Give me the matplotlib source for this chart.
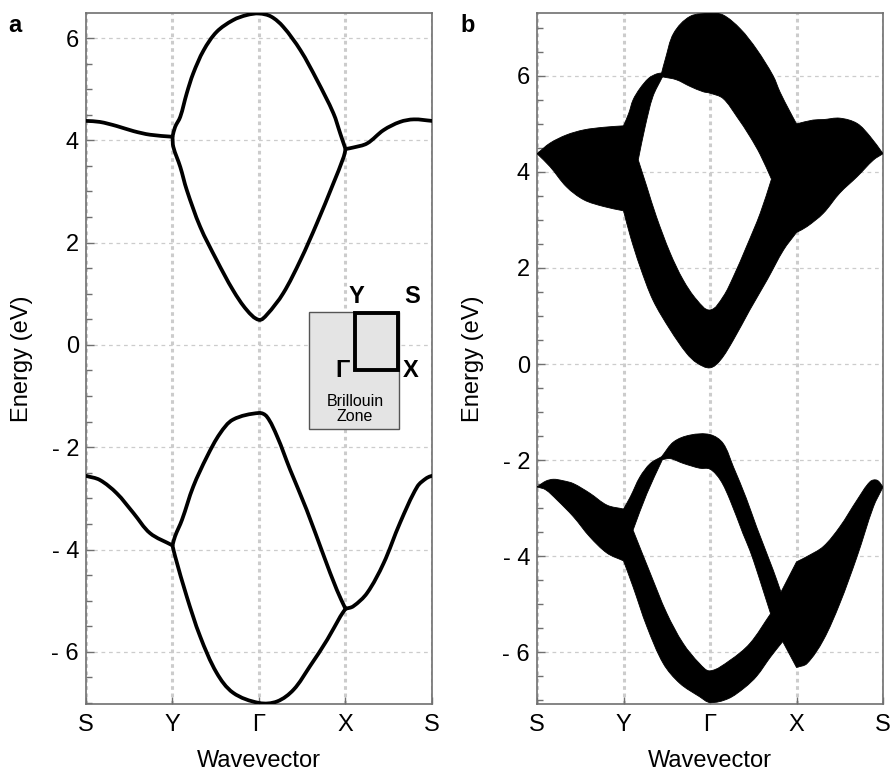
import numpy as np
import matplotlib
matplotlib.use("Agg")
import matplotlib.pyplot as plt
from matplotlib.path import Path
from matplotlib.patches import PathPatch, Rectangle
from matplotlib.ticker import MultipleLocator

plt.rcParams['font.family'] = ['Liberation Sans', 'DejaVu Sans']

# high-symmetry path S-Y-G-X-S
kpath_pos = [0, 1, 2, 3, 4]
kpath_labels = ['S', 'Y', 'Γ', 'X', 'S']
energy_ticks = [-6, -4, -2, 0, 2, 4, 6]
energy_labels = ['- 6', '- 4', '- 2', '0', '2', '4', '6']

# ---- panel a: bulk bands ----
cb2_k = [0, 0.16, 0.355, 0.55, 0.74, 1.0, 1.03, 1.09, 1.165, 1.24, 1.36, 1.51, 1.70, 1.86, 2.0,
         2.14, 2.28, 2.48, 2.67, 2.86, 2.94, 3.0, 3.09, 3.25, 3.44, 3.63, 3.79, 4.0]
cb2_e = [4.38, 4.36, 4.28, 4.18, 4.11, 4.07, 4.26, 4.46, 4.92, 5.31, 5.76, 6.12, 6.35, 6.45, 6.48,
         6.42, 6.22, 5.76, 5.18, 4.53, 4.13, 3.83, 3.86, 3.94, 4.20, 4.36, 4.41, 4.38]

cb1_k = [1.0, 1.01, 1.09, 1.165, 1.32, 1.51, 1.70, 1.86, 2.0, 2.09, 2.28, 2.48, 2.67, 2.86, 2.98, 3.0]
cb1_e = [4.07, 3.87, 3.48, 3.03, 2.31, 1.66, 1.07, 0.68, 0.49, 0.59, 1.01, 1.66, 2.38, 3.16, 3.68, 3.83]

vb2_k = [0, 0.16, 0.355, 0.55, 0.74, 1.0, 1.03, 1.11, 1.24, 1.40, 1.55, 1.70, 2.0,
         2.09, 2.21, 2.36, 2.55, 2.75, 2.90, 3.0, 3.09, 3.25, 3.44, 3.63, 3.83, 3.94, 4.0]
vb2_e = [-2.56, -2.64, -2.90, -3.29, -3.68, -3.92, -3.74, -3.42, -2.77, -2.18, -1.73, -1.46, -1.33,
         -1.40, -1.79, -2.44, -3.22, -4.13, -4.79, -5.16, -5.11, -4.85, -4.27, -3.48, -2.77, -2.60, -2.56]

vb1_k = [1.0, 1.03, 1.165, 1.32, 1.51, 1.70, 2.0, 2.21, 2.40, 2.59, 2.79, 2.94, 3.0]
vb1_e = [-3.92, -4.13, -4.92, -5.70, -6.41, -6.80, -7.0, -6.97, -6.74, -6.28, -5.76, -5.31, -5.16]

# ---- panel b: ribbon band envelopes ----
cond_top_k = [0, 0.15, 0.34, 0.54, 0.77, 1.0, 1.06, 1.11, 1.19, 1.29, 1.38, 1.44, 1.48, 1.58, 1.77,
              2.0, 2.15, 2.35, 2.54, 2.73, 2.81, 2.92, 3.0, 3.19, 3.31, 3.50, 3.70, 3.85, 4.0]
cond_top_e = [4.38, 4.60, 4.77, 4.875, 4.93, 4.96, 5.22, 5.50, 5.74, 5.95, 6.04, 6.06, 6.33, 6.89, 7.24,
              7.30, 7.27, 6.98, 6.55, 6.00, 5.66, 5.27, 5.00, 5.08, 5.09, 5.12, 5.01, 4.74, 4.38]
cond_bot_k = [0, 0.15, 0.34, 0.54, 0.77, 1.0, 1.08, 1.19, 1.34, 1.54, 1.73, 1.85, 2.0, 2.12, 2.27,
              2.46, 2.66, 2.85, 3.0, 3.12, 3.31, 3.50, 3.70, 3.89, 4.0]
cond_bot_e = [4.38, 4.11, 3.69, 3.42, 3.28, 3.19, 2.65, 2.03, 1.33, 0.71, 0.22, 0.02, -0.08, 0.08, 0.50,
              1.125, 1.75, 2.375, 2.74, 2.86, 3.14, 3.56, 3.90, 4.25, 4.38]
cond_gap_top_k = [1.45, 1.61, 1.77, 1.92, 2.0, 2.15, 2.31, 2.46, 2.58, 2.71]
cond_gap_top_e = [5.98, 5.92, 5.78, 5.67, 5.64, 5.53, 5.15, 4.74, 4.36, 3.85]
cond_gap_bot_k = [1.45, 1.34, 1.25, 1.17, 1.27, 1.38, 1.54, 1.69, 1.85, 2.0, 2.15, 2.27, 2.42, 2.58, 2.71]
cond_gap_bot_e = [5.98, 5.57, 4.94, 4.25, 3.69, 3.07, 2.31, 1.75, 1.33, 1.125, 1.40, 1.82, 2.44, 3.14, 3.85]

val_top_k = [0, 0.10, 0.19, 0.30, 0.42, 0.61, 0.81, 1.0, 1.08, 1.19, 1.31, 1.44, 1.58, 1.77, 2.0,
             2.15, 2.27, 2.42, 2.54, 2.73, 2.82, 3.0, 3.12, 3.31, 3.50, 3.70, 3.85, 3.93, 4.0]
val_top_e = [-2.56, -2.44, -2.40, -2.43, -2.49, -2.69, -2.94, -3.02, -2.76, -2.35, -2.07, -1.93, -1.62,
             -1.48, -1.47, -1.65, -2.14, -2.80, -3.40, -4.29, -4.75, -4.12, -4.01, -3.80, -3.39, -2.83,
             -2.45, -2.42, -2.56]
val_bot_k = [0, 0.10, 0.23, 0.42, 0.61, 0.81, 1.0, 1.11, 1.27, 1.46, 1.65, 1.88, 2.0, 2.21, 2.40,
             2.54, 2.70, 2.84, 3.0, 3.12, 3.31, 3.50, 3.70, 3.89, 4.0]
val_bot_e = [-2.56, -2.62, -2.83, -3.18, -3.60, -3.94, -4.10, -4.64, -5.47, -6.24, -6.65, -6.93, -7.05,
             -6.97, -6.74, -6.50, -6.10, -5.78, -6.32, -6.24, -5.75, -4.99, -4.01, -2.97, -2.56]
val_gap_top_k = [1.45, 1.54, 1.69, 1.88, 2.0, 2.12, 2.23, 2.38, 2.46, 2.54, 2.62, 2.70]
val_gap_top_e = [-1.99, -1.97, -2.07, -2.17, -2.19, -2.42, -2.83, -3.53, -3.88, -4.30, -4.75, -5.20]
val_gap_bot_k = [1.45, 1.27, 1.11, 1.31, 1.50, 1.69, 1.88, 2.0, 2.23, 2.46, 2.70]
val_gap_bot_e = [-1.99, -2.70, -3.46, -4.36, -5.19, -5.82, -6.24, -6.39, -6.17, -5.82, -5.20]

SPINE = '#707070'
GRID = '#cccccc'
FS = 17


def bezier_chain(k, e, kinks=(), scale=(86.5, 50.0)):
    """Cubic Bezier vertices passing through the points; sharp corners at kinks."""
    sx, sy = scale
    P = np.column_stack([np.asarray(k, float) * sx, np.asarray(e, float) * sy])
    n = len(P)
    corner = [i == 0 or i == n - 1 or any(abs(k[i] - c) < 1e-9 for c in kinks) for i in range(n)]

    def unit(v):
        d = np.hypot(*v)
        return v / d if d > 0 else v

    verts = [P[0]]
    for i in range(n - 1):
        p0, p1 = P[i], P[i + 1]
        L = np.hypot(*(p1 - p0)) / 3.0
        t0 = unit(p1 - p0) if corner[i] else unit(P[i + 1] - P[i - 1])
        t1 = unit(p1 - p0) if corner[i + 1] else unit(P[i + 2] - P[i])
        verts += [p0 + t0 * L, p1 - t1 * L, p1]
    V = np.array(verts)
    V[:, 0] /= sx
    V[:, 1] /= sy
    return V


def open_path(V):
    return Path(V, [Path.MOVETO] + [Path.CURVE4] * (len(V) - 1))


def ring_verts(top, bot):
    # top runs left->right, bot is traversed back from its last point to its first
    return np.vstack([top, bot[::-1][1:]])


def ring_codes(n):
    return [Path.MOVETO] + [Path.CURVE4] * (n - 1)


def band_patch(outer, hole):
    verts = np.vstack([outer, hole[::-1]])
    codes = ring_codes(len(outer)) + ring_codes(len(hole))
    return PathPatch(Path(verts, codes), facecolor='black', edgecolor='black',
                     linewidth=0.6, zorder=3)


def style_axes(ax, ylim):
    ax.set_xlim(0, 4)
    ax.set_ylim(*ylim)
    ax.set_xticks(kpath_pos, kpath_labels)
    ax.set_yticks(energy_ticks, energy_labels)
    ax.yaxis.set_minor_locator(MultipleLocator(0.5))
    ax.tick_params(axis='both', which='both', direction='in', top=False, right=False,
                   color=SPINE, labelsize=FS, width=1)
    ax.tick_params(axis='y', which='major', length=6, pad=5)
    ax.tick_params(axis='y', which='minor', length=4)
    ax.tick_params(axis='x', which='major', length=5, pad=7)
    for s in ax.spines.values():
        s.set_color(SPINE)
        s.set_linewidth(1.2)
    ax.xaxis.grid(True, color=GRID, linestyle=(0, (1.2, 1.2)), linewidth=2.2)
    ax.yaxis.grid(True, color=GRID, linestyle=(0, (3, 3)), linewidth=0.9)
    ax.set_axisbelow(True)
    ax.set_xlabel('Wavevector', fontsize=FS, labelpad=10)
    ax.set_ylabel('Energy (eV)', fontsize=FS, labelpad=13)


fig = plt.figure(figsize=(8.9, 7.73), dpi=100)
ax_a = fig.add_axes([0.0966, 0.0893, 0.3888, 0.8939])
ax_b = fig.add_axes([0.6034, 0.0893, 0.3888, 0.8939])

# panel a
style_axes(ax_a, (-7.02, 6.49))
for k, e in ((cb2_k, cb2_e), (cb1_k, cb1_e), (vb2_k, vb2_e), (vb1_k, vb1_e)):
    V = bezier_chain(k, e, kinks=(1.0, 3.0), scale=(86.5, 51.2))
    ax_a.add_patch(PathPatch(open_path(V), facecolor='none', edgecolor='black',
                             linewidth=2.7, capstyle='round', joinstyle='round', zorder=3))

# Brillouin zone inset
tr = ax_a.transAxes
ax_a.add_patch(Rectangle((0.6454, 0.3975), 0.2601, 0.1702, transform=tr,
                         facecolor='#e4e4e4', edgecolor='#555555', linewidth=1.0, zorder=4))
ax_a.add_patch(Rectangle((0.7775, 0.4834), 0.1242, 0.0824, transform=tr,
                         facecolor='none', edgecolor='black', linewidth=2.8, zorder=5))
for lbl, (fx, fy) in (('Γ', (0.742, 0.482)), ('Y', (0.783, 0.590)),
                      ('S', (0.942, 0.590)), ('X', (0.939, 0.482))):
    ax_a.text(fx, fy, lbl, transform=tr, fontsize=FS, fontweight='bold',
              ha='center', va='center', zorder=6)
ax_a.text(0.7775, 0.427, 'Brillouin\nZone', transform=tr, fontsize=11.5,
          ha='center', va='center', linespacing=0.95, zorder=6)

# panel b
style_axes(ax_b, (-7.08, 7.31))
sc = (86.5, 48.0)
cond_outer = ring_verts(bezier_chain(cond_top_k, cond_top_e, (1.0, 1.44, 3.0), sc),
                        bezier_chain(cond_bot_k, cond_bot_e, (1.0, 3.0), sc))
cond_hole = ring_verts(bezier_chain(cond_gap_top_k, cond_gap_top_e, (), sc),
                       bezier_chain(cond_gap_bot_k, cond_gap_bot_e, (1.17,), sc))
val_outer = ring_verts(bezier_chain(val_top_k, val_top_e, (1.0, 1.44, 2.82, 3.0), sc),
                       bezier_chain(val_bot_k, val_bot_e, (1.0, 2.84, 3.0), sc))
val_hole = ring_verts(bezier_chain(val_gap_top_k, val_gap_top_e, (), sc),
                      bezier_chain(val_gap_bot_k, val_gap_bot_e, (1.11,), sc))
ax_b.add_patch(band_patch(cond_outer, cond_hole))
ax_b.add_patch(band_patch(val_outer, val_hole))

fig.text(0.017, 0.967, 'a', fontsize=FS, fontweight='bold', ha='center', va='center')
fig.text(0.526, 0.967, 'b', fontsize=FS, fontweight='bold', ha='center', va='center')

fig.savefig('out.png', dpi=100)
